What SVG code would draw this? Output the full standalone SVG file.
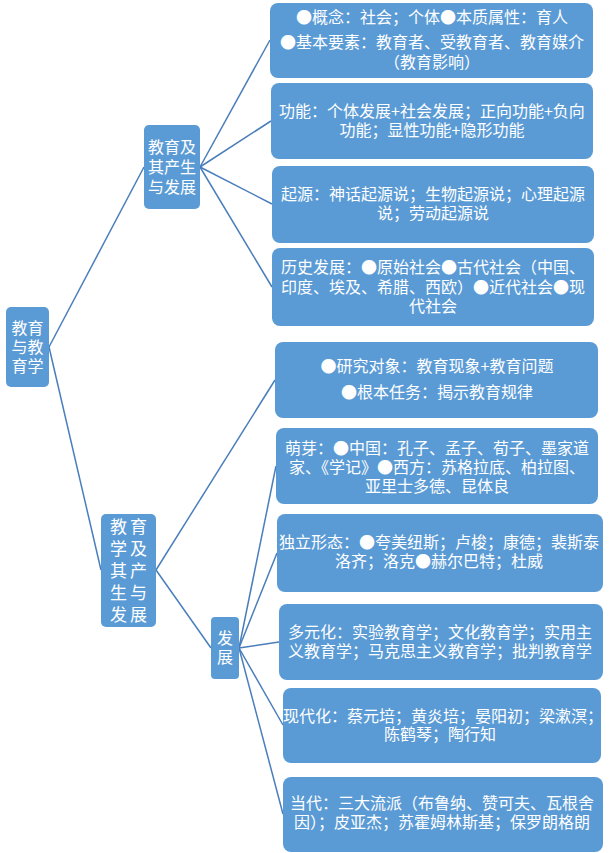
<svg xmlns="http://www.w3.org/2000/svg" width="612" height="853" viewBox="0 0 612 853">
<style>
.box{fill:#5B9BD5;}
.t{font-family:"Noto Sans CJK SC","Noto Sans CJK JP",sans-serif;fill:#FFFFFF;font-size:16px;text-anchor:middle;}
.n{font-family:"Noto Sans CJK SC","Noto Sans CJK JP",sans-serif;fill:#FFFFFF;font-size:16px;text-anchor:middle;}
.c{fill:none;stroke:#4A7EBB;stroke-width:1.5;}
</style>
<rect width="612" height="853" fill="#FFFFFF"/>
<g id="connectors">
<path class="c" d="M49,347 L144,167"/>
<path class="c" d="M49,347 L101,570"/>
<path class="c" d="M200,167 L270,40"/>
<path class="c" d="M200,167 L271,121"/>
<path class="c" d="M200,167 L272,204"/>
<path class="c" d="M200,167 L272,287"/>
<path class="c" d="M156,570 L275,380"/>
<path class="c" d="M156,570 L211,648"/>
<path class="c" d="M239,648 L276,466"/>
<path class="c" d="M239,648 L277,553"/>
<path class="c" d="M239,648 L279,642"/>
<path class="c" d="M239,648 L283,725"/>
<path class="c" d="M239,648 L283,814"/>
</g>
<g id="root">
<rect class="box" x="6" y="307" width="43" height="80" rx="5"/>
<text class="n" x="27.5" y="334">教育</text>
<text class="n" x="27.5" y="353">与教</text>
<text class="n" x="27.5" y="372">育学</text>
</g>
<g id="n-jiaoyu">
<rect class="box" x="144" y="125" width="56" height="84" rx="5"/>
<text class="n" x="172" y="153">教育及</text>
<text class="n" x="172" y="173">其产生</text>
<text class="n" x="172" y="193">与发展</text>
</g>
<g id="n-jiaoyuxue">
<rect class="box" x="101" y="514" width="55" height="113" rx="5"/>
<g font-family="Noto Sans CJK SC, Noto Sans CJK JP, sans-serif" font-size="17" fill="#FFFFFF" letter-spacing="3">
<text x="110" y="533">教育</text>
<text x="110" y="555">学及</text>
<text x="110" y="577">其产</text>
<text x="110" y="599">生与</text>
<text x="110" y="621">发展</text>
</g>
</g>
<g id="n-fazhan">
<rect class="box" x="211" y="617" width="28" height="62" rx="4"/>
<text class="n" x="225" y="644" font-size="17">发</text>
<text class="n" x="225" y="663" font-size="17">展</text>
</g>
<g id="leaf1">
<rect class="box" x="270" y="3" width="323" height="75" rx="8"/>
<text class="t" x="432" y="23">●概念：社会；个体●本质属性：育人</text>
<text class="t" x="432" y="48">●基本要素：教育者、受教育者、教育媒介</text>
<text class="t" x="432" y="68">（教育影响）</text>
</g>
<g id="leaf2">
<rect class="box" x="271" y="83" width="322" height="76" rx="8"/>
<text class="t" x="432" y="117">功能：个体发展+社会发展；正向功能+负向</text>
<text class="t" x="432" y="136">功能；显性功能+隐形功能</text>
</g>
<g id="leaf3">
<rect class="box" x="272" y="166" width="322" height="77" rx="8"/>
<text class="t" x="433" y="200">起源：神话起源说；生物起源说；心理起源</text>
<text class="t" x="433" y="219">说；劳动起源说</text>
</g>
<g id="leaf4">
<rect class="box" x="272" y="248" width="322" height="78" rx="8"/>
<text class="t" x="433" y="273">历史发展：●原始社会●古代社会（中国、</text>
<text class="t" x="433" y="293">印度、埃及、希腊、西欧）●近代社会●现</text>
<text class="t" x="433" y="312">代社会</text>
</g>
<g id="leaf5">
<rect class="box" x="275" y="342" width="323" height="76" rx="8"/>
<text class="t" x="437" y="372">●研究对象：教育现象+教育问题</text>
<text class="t" x="437" y="398">●根本任务：揭示教育规律</text>
</g>
<g id="leaf6">
<rect class="box" x="276" y="428" width="322" height="76" rx="8"/>
<text class="t" x="437" y="454">萌芽：●中国：孔子、孟子、荀子、墨家道</text>
<text class="t" x="437" y="473">家、《学记》●西方：苏格拉底、柏拉图、</text>
<text class="t" x="437" y="492">亚里士多德、昆体良</text>
</g>
<g id="leaf7">
<rect class="box" x="277" y="514" width="326" height="78" rx="8"/>
<text class="t" x="439" y="548">独立形态：●夸美纽斯；卢梭；康德；裴斯泰</text>
<text class="t" x="439" y="567">洛齐；洛克●赫尔巴特；杜威</text>
</g>
<g id="leaf8">
<rect class="box" x="279" y="604" width="324" height="76" rx="8"/>
<text class="t" x="440" y="638">多元化：实验教育学；文化教育学；实用主</text>
<text class="t" x="440" y="657">义教育学；马克思主义教育学；批判教育学</text>
</g>
<g id="leaf9">
<rect class="box" x="283" y="688" width="318" height="75" rx="8"/>
<text class="t" x="443" y="722">现代化：蔡元培；黄炎培；晏阳初；梁漱溟；</text>
<text class="t" x="440" y="740">陈鹤琴；陶行知</text>
</g>
<g id="leaf10">
<rect class="box" x="283" y="777" width="320" height="75" rx="8"/>
<text class="t" x="442" y="809">当代：三大流派（布鲁纳、赞可夫、瓦根舍</text>
<text class="t" x="442" y="828">因）；皮亚杰；苏霍姆林斯基；保罗朗格朗</text>
</g>
</svg>
